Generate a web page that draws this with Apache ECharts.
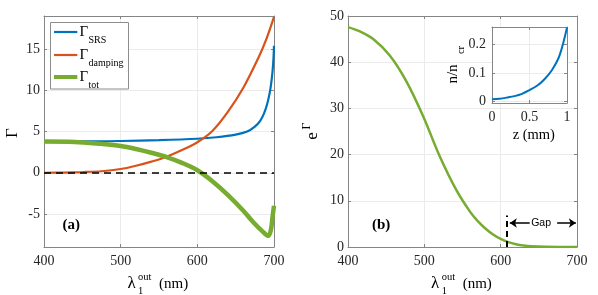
<!DOCTYPE html>
<html><head><meta charset="utf-8">
<script src="https://cdn.jsdelivr.net/npm/echarts@6/dist/echarts.min.js"></script>
<style>html,body{margin:0;padding:0;background:#fff}#c{width:598px;height:295px}</style>
</head><body><div id="c"></div>
<script>
// ---- data (panel a) ----
const lambdaSRS = [400,450,500,550,600,625,650,665,675,682,687,691,694,696,698,699.3,700];
const gammaSRS  = [3.8,3.8,3.85,3.95,4.12,4.3,4.62,5.0,5.6,6.3,7.2,8.3,9.5,10.6,12.2,13.8,15.4];
const lambdaDamp = [400,425,450,475,500,520,540,560,580,600,620,640,660,680,690,700];
const gammaDamp  = [0,0.02,0.08,0.18,0.45,0.85,1.35,1.95,2.75,3.7,5.1,7.4,10.3,14.0,16.2,18.9];
const lambdaTot = [400,440,475,500,520,540,560,580,600,620,640,660,673,686,692.5,696,698,700];
const gammaTot  = [3.78,3.74,3.5,3.25,2.88,2.42,1.9,1.2,0.3,-1.05,-2.7,-4.6,-6.0,-7.2,-7.65,-6.9,-5.4,-4.0];
// ---- data (panel b) ----
const lambdaExp = [400,415,433,455,477,499,520,542,560,570,580,590,600,610,620,630,640,660,680,700];
const expGamma  = [47.6,46.7,45.0,41.4,35.7,28.1,19.7,12.3,7.6,5.6,4.0,2.7,1.75,1.05,0.6,0.32,0.16,0.04,0.01,0.003];
// ---- inset ----
const zMM  = [0,0.1,0.2,0.3,0.4,0.5,0.6,0.7,0.8,0.9,1.0];
const nNcr = [0.008,0.01,0.014,0.019,0.027,0.04,0.055,0.078,0.11,0.16,0.258];
// ---- ticks / names ----
const yTicksA = [-5,0,5,10,15];
const yTicksInset = [0,0.1,0.2];
const legendSubs = ['SRS','damping','tot'];
const gapLambda = 608;

const serif = "'Liberation Serif','Times New Roman',serif";
const sans = "'Liberation Sans',Arial,sans-serif";
const axisColor = '#858585';
const textColor = '#262626';
const splitColor = '#ebebeb';
const cBlue = '#0072BD', cOrange = '#D95319', cGreen = '#77AC30';
const zip = (a,b) => a.map((v,i)=>[v,b[i]]);

function xAx(grid, pos, min, max, interval, labels, z) {
  return {
    type:'value', gridIndex:grid, position:pos, min, max, interval, z: z||0,
    axisLine:{show:true, onZero:false, lineStyle:{color:axisColor, width:1}},
    axisTick:{show:true, inside:true, length:3, lineStyle:{color:axisColor}},
    axisLabel:{show:labels, fontFamily:serif, fontSize:14, color:textColor, margin:7},
    splitLine:{show:labels, lineStyle:{color:splitColor, width:1}}
  };
}
function yAx(grid, pos, min, max, opts, labels, margin, z) {
  const a = {
    type:'value', gridIndex:grid, position:pos, min, max, z: z||0,
    axisLine:{show:true, onZero:false, lineStyle:{color:axisColor, width:1}},
    axisTick:{show:true, inside:true, length:3, lineStyle:{color:axisColor}},
    axisLabel:{show:labels, fontFamily:serif, fontSize:14, color:textColor, margin:margin},
    splitLine:{show:labels, lineStyle:{color:splitColor, width:1}}
  };
  if (opts.interval) a.interval = opts.interval;
  if (opts.custom) { a.axisTick.customValues = opts.custom; a.axisLabel.customValues = opts.custom; }
  return a;
}

const chart = echarts.init(document.getElementById('c'), null, {renderer:'canvas'});
const T = (text, x, y, size, extra) => Object.assign({type:'text', x, y, z:10,
  style:Object.assign({text, fontFamily:serif, fontSize:size, fill:'#000', textAlign:'center', textVerticalAlign:'middle'}, (extra&&extra.style)||{})},
  extra ? {rotation: extra.rotation||0} : {});

const off = 303.7;
const graphics = [
  T('Γ', 13, 133, 17, {rotation:Math.PI/2}),
  T('e', 313, 136, 17, {rotation:Math.PI/2}),
  T('Γ', 307, 126, 12, {rotation:Math.PI/2}),
  T('λ', 131.5, 284, 17),
  T('out', 138, 277, 10.5, {style:{textAlign:'left'}}),
  T('1', 138, 291.5, 10.5, {style:{textAlign:'left'}}),
  T('(nm)', 159, 284, 15, {style:{textAlign:'left'}}),
  T('λ', 131.5+off, 284, 17),
  T('out', 138+off, 277, 10.5, {style:{textAlign:'left'}}),
  T('1', 138+off, 291.5, 10.5, {style:{textAlign:'left'}}),
  T('(nm)', 159+off, 284, 15, {style:{textAlign:'left'}}),
  T('z (mm)', 533.8, 135, 14.5),
  T('n/n', 453, 74, 15, {rotation:Math.PI/2}),
  T('cr', 461.5, 50, 10.5, {rotation:Math.PI/2}),
  T('(a)', 71.3, 225, 15, {style:{fontWeight:'bold'}}),
  T('(b)', 381.2, 225, 15, {style:{fontWeight:'bold'}}),
  // legend box
  {type:'rect', z:9, shape:{x:50.5, y:22.5, width:78, height:66.5},
   style:{fill:'#fff', stroke:'#8c8c8c', lineWidth:1}}
];
const legendColors = [cBlue, cOrange, cGreen];
const legendWidths = [2.2, 2.2, 4];
const legendY = [32, 55, 77];
legendSubs.forEach((s, i) => {
  graphics.push({type:'line', z:10, shape:{x1:54, y1:legendY[i], x2:77.3, y2:legendY[i]},
    style:{stroke:legendColors[i], lineWidth:legendWidths[i]}});
  graphics.push(T('Γ', 79.5, legendY[i], 15, {style:{textAlign:'left'}}));
  graphics.push(T(s, 88.5, legendY[i]+8, 10, {style:{textAlign:'left'}}));
});

chart.setOption({
  animation:false,
  backgroundColor:'#fff',
  grid:[
    {left:44, top:16, width:230, height:231},
    {left:348, top:16, width:229, height:231},
    {left:492, top:27, width:75, height:76, show:true, backgroundColor:'#fff', borderWidth:0, z:3}
  ],
  xAxis:[
    xAx(0,'bottom',400,700,100,true),
    xAx(0,'top',400,700,100,false),
    xAx(1,'bottom',400,700,100,true),
    xAx(1,'top',400,700,100,false),
    xAx(2,'bottom',0,1,0.5,true,4),
    xAx(2,'top',0,1,0.5,false,4)
  ],
  yAxis:[
    yAx(0,'left',-9,19,{custom:yTicksA},true,4),
    yAx(0,'right',-9,19,{custom:yTicksA},false,4),
    yAx(1,'left',0,50,{interval:10},true,4),
    yAx(1,'right',0,50,{interval:10},false,4),
    yAx(2,'left',-0.005,0.26,{custom:yTicksInset},true,6,4),
    yAx(2,'right',-0.005,0.26,{custom:yTicksInset},false,6,4)
  ],
  graphic: graphics,
  series:[
    {name:'SRS', type:'line', xAxisIndex:0, yAxisIndex:0, data:zip(lambdaSRS,gammaSRS),
     symbol:'none', smooth:0.35, lineStyle:{color:cBlue, width:2.2}, z:2},
    {name:'damping', type:'line', xAxisIndex:0, yAxisIndex:0, data:zip(lambdaDamp,gammaDamp),
     symbol:'none', smooth:0.35, lineStyle:{color:cOrange, width:2.2}, z:2,
     markLine:{silent:true, symbol:'none', label:{show:false}, lineStyle:{color:'#000', type:[7,5], width:1.6},
       data:[{yAxis:0}]}},
    {name:'tot', type:'line', xAxisIndex:0, yAxisIndex:0, data:zip(lambdaTot,gammaTot),
     symbol:'none', smooth:0.35, lineStyle:{color:cGreen, width:4.5}, z:3},
    {name:'expG', type:'line', xAxisIndex:2, yAxisIndex:2, data:zip(lambdaExp,expGamma),
     symbol:'none', smooth:0.35, lineStyle:{color:cGreen, width:2.5}, z:2,
     markLine:{silent:true, label:{show:false}, symbolSize:7, lineStyle:{color:'#000', type:'solid', width:1.5},
       data:[
         [{coord:[gapLambda,0], symbol:'none', lineStyle:{type:[6,4], width:2}}, {coord:[gapLambda,6.8], symbol:'none'}],
         [{coord:[638,5.2], symbol:'none'}, {coord:[612,5.2], symbol:'arrow'}],
         [{coord:[674,5.2], symbol:'none'}, {coord:[698.5,5.2], symbol:'arrow'}]
       ]},
     markPoint:{silent:true, symbol:'circle', symbolSize:1, itemStyle:{color:'rgba(0,0,0,0)'},
       label:{show:true, position:'inside', formatter:'Gap', fontFamily:sans, fontSize:10.5, color:'#000'},
       data:[{coord:[653,5.2]}]}},
    {name:'density', type:'line', xAxisIndex:4, yAxisIndex:4, data:zip(zMM,nNcr),
     symbol:'none', smooth:0.35, lineStyle:{color:cBlue, width:2}, z:5}
  ]
});
</script></body></html>
